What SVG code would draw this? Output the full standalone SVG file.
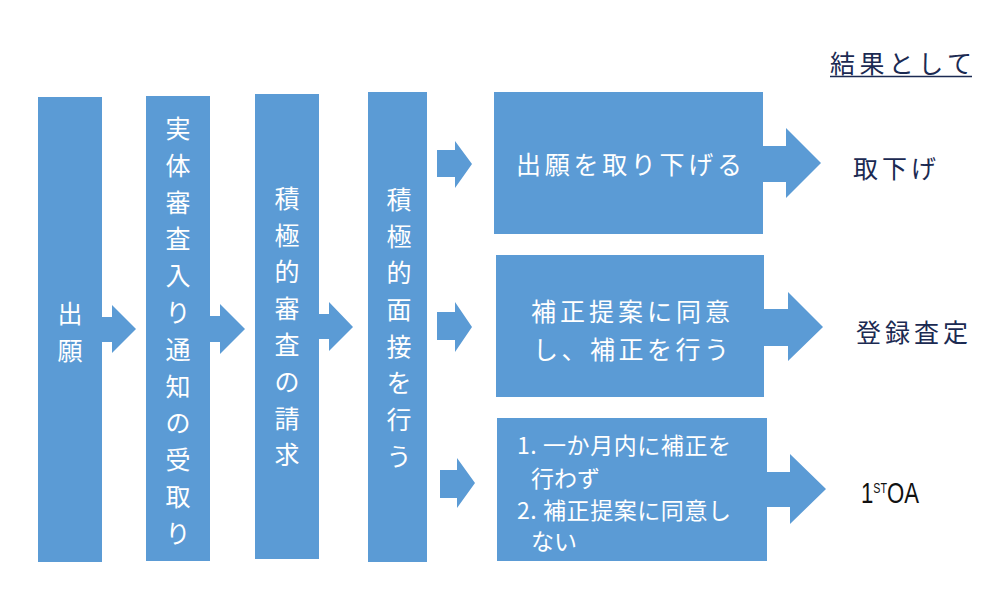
<svg xmlns="http://www.w3.org/2000/svg" width="997" height="592" viewBox="0 0 997 592">
<style>
.box{fill:#5B9BD5}
.arr{fill:#5B9BD5}
.t{font-family:"Noto Sans CJK JP","Noto Sans CJK SC",sans-serif;font-size:25px;fill:#ffffff;dominant-baseline:central}
.v{text-anchor:middle}
.r{font-family:"Noto Sans CJK JP","Noto Sans CJK SC",sans-serif;font-size:25px;fill:#1B2A52;dominant-baseline:central}
.s{font-size:23px}
.oa{font-family:"Liberation Sans",sans-serif;fill:#111111}
</style>
<rect width="997" height="592" fill="#ffffff"/>
<g id="connectors">
<polygon class="arr" points="102,317 112,317 112,305 136,329 112,353 112,342 102,342"/>
<polygon class="arr" points="210,316 220,316 220,304 245,329 220,354 220,342 210,342"/>
<polygon class="arr" points="319,314 329,314 329,302 353,327 329,351 329,339 319,339"/>
<polygon class="arr" points="437,150 455,150 455,141 472,164 455,188 455,177 437,177"/>
<polygon class="arr" points="437,312 455,312 455,302 472,327 455,352 455,340 437,340"/>
<polygon class="arr" points="440,470 457,470 457,458 475,483 457,508 457,498 440,498"/>
<polygon class="arr" points="763,146 786,146 786,128 821,163 786,198 786,182 763,182"/>
<polygon class="arr" points="764,309 788,309 788,292 823,327 788,361 788,346 764,346"/>
<polygon class="arr" points="767,472 790,472 790,454 826,489 790,524 790,507 767,507"/>
</g>
<g id="node-shutsugan">
<rect class="box" x="38" y="97" width="64" height="465"/>
<text class="t v"><tspan x="70" y="312">出</tspan><tspan x="70" y="349">願</tspan></text>
</g>
<g id="node-jittai">
<rect class="box" x="146" y="96" width="64" height="465"/>
<text class="t v"><tspan x="178" y="127">実</tspan><tspan x="178" y="164">体</tspan><tspan x="178" y="201">審</tspan><tspan x="178" y="237">査</tspan><tspan x="178" y="274">入</tspan><tspan x="178" y="311">り</tspan><tspan x="178" y="348">通</tspan><tspan x="178" y="385">知</tspan><tspan x="178" y="421">の</tspan><tspan x="178" y="458">受</tspan><tspan x="178" y="495">取</tspan><tspan x="178" y="532">り</tspan></text>
</g>
<g id="node-sekkyoku-seikyu">
<rect class="box" x="255" y="94" width="64" height="465"/>
<text class="t v"><tspan x="287" y="197">積</tspan><tspan x="287" y="234">極</tspan><tspan x="287" y="270">的</tspan><tspan x="287" y="307">審</tspan><tspan x="287" y="343">査</tspan><tspan x="287" y="380">の</tspan><tspan x="287" y="417">請</tspan><tspan x="287" y="453">求</tspan></text>
</g>
<g id="node-mensetsu">
<rect class="box" x="368" y="92" width="59" height="470"/>
<text class="t v"><tspan x="399" y="198">積</tspan><tspan x="399" y="235">極</tspan><tspan x="399" y="271">的</tspan><tspan x="399" y="308">面</tspan><tspan x="399" y="345">接</tspan><tspan x="399" y="381">を</tspan><tspan x="399" y="418">行</tspan><tspan x="399" y="455">う</tspan></text>
</g>
<g id="node-torisage">
<rect class="box" x="494" y="92" width="269" height="142"/>
<text class="t" x="516" y="163" textLength="226" lengthAdjust="spacing">出願を取り下げる</text>
</g>
<g id="node-hosei">
<rect class="box" x="496" y="255" width="268" height="142"/>
<text class="t" x="531" y="310" textLength="199" lengthAdjust="spacing">補正提案に同意</text>
<text class="t" x="533" y="348" textLength="196" lengthAdjust="spacing">し、補正を行う</text>
</g>
<g id="node-fudoui">
<rect class="box" x="497" y="418" width="270" height="143"/>
<text class="t s" x="517" y="444" textLength="214" lengthAdjust="spacing">1. 一か月内に補正を</text>
<text class="t s" x="531" y="477">行わず</text>
<text class="t s" x="517" y="509" textLength="214" lengthAdjust="spacing">2. 補正提案に同意し</text>
<text class="t s" x="531" y="540">ない</text>
</g>
<g id="label-kekka">
<text class="r" x="830" y="62" textLength="142" lengthAdjust="spacing">結果として</text>
<line x1="830" y1="76.5" x2="972" y2="76.5" stroke="#1B2A52" stroke-width="1.6"/>
</g>
<g id="label-torisage">
<text class="r" x="853" y="167" textLength="83" lengthAdjust="spacing">取下げ</text>
</g>
<g id="label-toroku">
<text class="r" x="856" y="331" textLength="112" lengthAdjust="spacing">登録査定</text>
</g>
<g id="label-1stoa">
<text class="oa" x="861" y="503" font-size="29" textLength="58" lengthAdjust="spacingAndGlyphs">1<tspan font-size="14" dy="-10">ST</tspan><tspan dy="10">OA</tspan></text>
</g>
</svg>
